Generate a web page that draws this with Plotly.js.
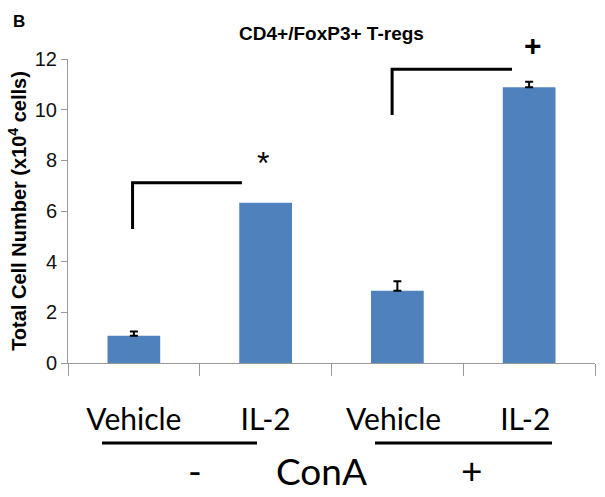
<!DOCTYPE html>
<html>
<head>
<meta charset="utf-8">
<script src="https://cdn.plot.ly/plotly-3.0.1.min.js"></script>
<style>html,body{margin:0;padding:0;background:#fff;}#chart{width:605px;height:497px;}</style>
</head>
<body>
<div id="chart"></div>
<script>
// Data
var categories = ["Vehicle", "IL-2", "Vehicle ", "IL-2 "];
var cellNumbers = [1.08, 6.33, 2.85, 10.88];
var errorsPlus = [0.16, null, 0.38, 0.22];
var yTickValues = [0, 2, 4, 6, 8, 10, 12];
var conaLabels = ["-", "ConA", "+"];
var sigMarks = ["*", "+"];

var W = 605, H = 497;
var M = {l: 68, r: 10, t: 59, b: 134};
var PW = W - M.l - M.r, PH = H - M.t - M.b;
function px(x) { return (x - M.l) / PW; }
function py(y) { return (H - M.b - y) / PH; }

var idxErr = [], idxNoErr = [];
cellNumbers.forEach(function(v, i){ (errorsPlus[i] === null ? idxNoErr : idxErr).push(i); });

function barTrace(idx, withErr) {
  var t = {
    type: "bar",
    x: idx,
    y: idx.map(function(i){ return cellNumbers[i]; }),
    width: 0.4,
    marker: {color: "#4F81BD"},
    hoverinfo: "none"
  };
  if (withErr) {
    t.error_y = {
      type: "data", symmetric: false,
      array: idx.map(function(i){ return errorsPlus[i]; }),
      arrayminus: idx.map(function(){ return 0; }),
      color: "#000", thickness: 2, width: 4
    };
  }
  return t;
}

var blk = {color: "#000", width: 3};
var shapes = [
  {type: "path", xref: "x", yref: "y", path: "M -0.01,5.29 L -0.01,7.12 L 0.82,7.12", line: blk},
  {type: "path", xref: "x", yref: "y", path: "M 1.96,9.79 L 1.96,11.6 L 2.87,11.6", line: blk},
  {type: "line", xref: "paper", yref: "paper", x0: px(102), x1: px(257), y0: py(443), y1: py(443), line: blk},
  {type: "line", xref: "paper", yref: "paper", x0: px(375), x1: px(552), y0: py(443), y1: py(443), line: blk}
];

var lblFont = {family: "Lato, 'Liberation Sans', Arial, sans-serif", size: 37, color: "#000"};
function ann(text, x, y, font) {
  return {text: text, xref: "paper", yref: "paper", x: px(x), y: py(y),
          xanchor: "center", yanchor: "middle", showarrow: false, font: font};
}
var annotations = [
  ann(sigMarks[0], 263, 163, {family: "'Liberation Sans', Arial, sans-serif", size: 32, color: "#000"}),
  ann(sigMarks[1], 533, 45, {family: "'Liberation Sans', Arial, sans-serif", size: 30, color: "#000", weight: "bold"}),
  ann("B", 19, 21, {family: "'Liberation Sans', Arial, sans-serif", size: 17, color: "#000", weight: "bold"}),
  ann(conaLabels[0], 195, 471, lblFont),
  ann(conaLabels[1], 321, 471, lblFont),
  ann(conaLabels[2], 471, 469, lblFont)
];

var layout = {
  width: W, height: H,
  margin: M,
  paper_bgcolor: "#fff", plot_bgcolor: "#fff",
  showlegend: false,
  barmode: "overlay",
  title: {
    text: "CD4+/FoxP3+ T-regs",
    font: {family: "'Liberation Sans', Arial, sans-serif", size: 19, color: "#000", weight: "bold"},
    xref: "paper", x: 0.5, xanchor: "center",
    yref: "container", y: 1 - 33 / H, yanchor: "middle"
  },
  xaxis: {
    type: "linear",
    range: [-0.5, 3.5],
    tickmode: "array",
    tickvals: [0, 1, 2, 3],
    ticktext: categories,
    showgrid: false, zeroline: false,
    showline: true, linecolor: "#999", linewidth: 1,
    ticks: "",
    ticklabelstandoff: 30,
    tickfont: {family: "Lato, 'Liberation Sans', Arial, sans-serif", size: 30, color: "#000"},
    automargin: false,
    fixedrange: true
  },
  xaxis2: {
    overlaying: "x", range: [-0.5, 3.5], tickmode: "array",
    tickvals: [-0.5, 0.5, 1.5, 2.5, 3.5], showticklabels: false,
    ticks: "outside", ticklen: 12, tickcolor: "#999", showgrid: false, zeroline: false,
    anchor: "y", side: "bottom", automargin: false
  },
  yaxis: {
    range: [0, 12],
    tickmode: "array",
    tickvals: yTickValues,
    showgrid: false, zeroline: false,
    showline: true, linecolor: "#999", linewidth: 1,
    ticks: "outside", ticklen: 6, tickcolor: "#999",
    tickfont: {family: "'Liberation Sans', Arial, sans-serif", size: 20, color: "#111"},
    title: {
      text: "Total Cell Number (x10<sup>4</sup> cells)",
      font: {family: "'Liberation Sans', Arial, sans-serif", size: 20, color: "#000", weight: "bold"},
      standoff: 2
    },
    automargin: false,
    fixedrange: true
  },
  shapes: shapes,
  annotations: annotations
};

var tickTrace = {type: "scatter", mode: "markers", x: [0], y: [0], xaxis: "x2", yaxis: "y",
                 marker: {opacity: 0}, hoverinfo: "none"};

Plotly.newPlot("chart", [barTrace(idxErr, true), barTrace(idxNoErr, false), tickTrace], layout,
               {staticPlot: true, displayModeBar: false});
</script>
</body>
</html>
